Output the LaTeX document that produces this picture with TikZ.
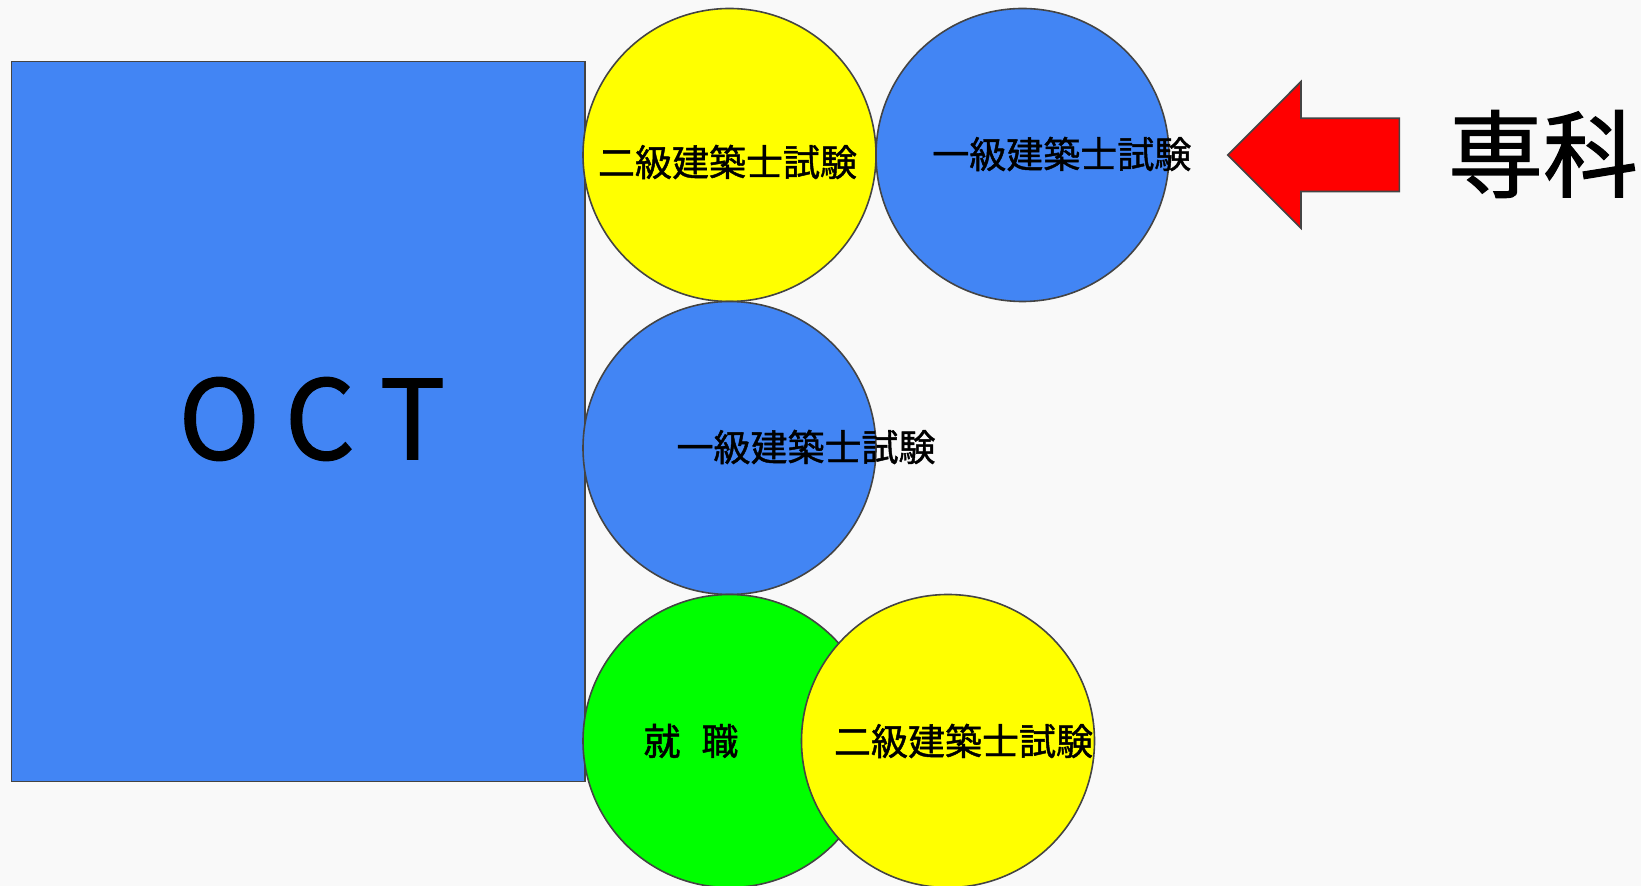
\documentclass[tikz,border=0pt]{standalone}
\usepackage{fontspec}
\newfontfamily\jp{Noto Sans CJK JP}
\newfontfamily\jpb[FakeBold=1.2]{Noto Sans CJK JP}
\definecolor{bg}{HTML}{F9F9F9}
\definecolor{gblue}{HTML}{4285F4}
\definecolor{gyellow}{HTML}{FFFF00}
\definecolor{ggreen}{HTML}{00FF00}
\definecolor{gred}{HTML}{FF0000}
\definecolor{edge}{HTML}{444444}
\begin{document}
\begin{tikzpicture}[x=0.5pt,y=-0.5pt,
  bubble/.style={circle,draw=edge,line width=0.8pt,minimum size=146.5pt,inner sep=0pt},
  ctext/.style={font=\jpb\fontsize{18.5}{20}\selectfont,inner sep=0pt}]
\fill[bg] (0,0) rectangle (1641,886);
\useasboundingbox (0,0) rectangle (1641,886);
% OCT block
\node[draw=edge,line width=0.8pt,fill=gblue,minimum width=286.75pt,minimum height=360pt,inner sep=0pt,anchor=north west] (oct) at (10.5,60.7) {};
\node[font=\jpb\fontsize{55}{60}\selectfont,inner sep=0pt] (octt) at (312,419) {O C T};
% circles
\node[bubble,fill=gyellow] (c1) at (729.5,155) {};
\node[bubble,fill=gblue] (c2) at (1022.5,155) {};
\node[bubble,fill=gblue] (c3) at (729.5,448) {};
\node[bubble,fill=ggreen] (c4) at (729.5,741) {};
\node[bubble,fill=gyellow] (c5) at (948,741) {};
% texts
\node[ctext] (t1) at (727.5,162) {二級建築士試験};
\node[ctext] (t2) at (1061.8,154) {一級建築士試験};
\node[ctext] (t3) at (806,447) {一級建築士試験};
\node[ctext] (t4) at (691,741) {就\hspace{10.5pt}職};
\node[ctext] (t5) at (963.5,741) {二級建築士試験};
% arrow
\draw[edge,fill=gred,line width=0.8pt,line join=miter] (1227.7,155) -- (1301,81.6) -- (1301,118.3) -- (1399.3,118.3) -- (1399.3,191.5) -- (1301,191.5) -- (1301,228.2) -- cycle;
\node[font=\jpb\fontsize{47.5}{50}\selectfont,inner sep=0pt] (senka) at (1543,154) {専科};
\end{tikzpicture}
\end{document}
